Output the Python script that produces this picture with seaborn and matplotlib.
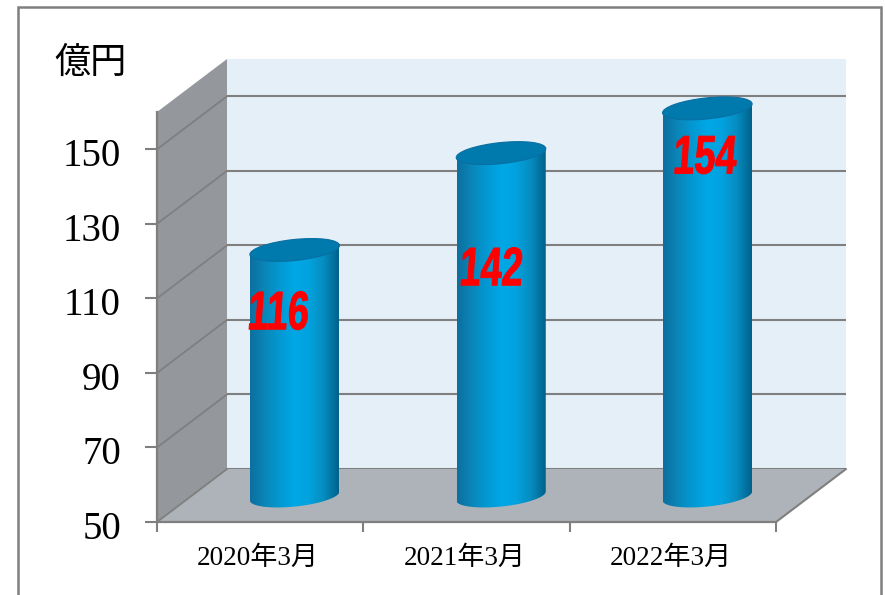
import matplotlib
matplotlib.use("Agg")

import matplotlib.pyplot as plt
import numpy as np
import seaborn as sns
from matplotlib.patches import Ellipse, Polygon, Rectangle
from matplotlib.patheffects import AbstractPathEffect
from matplotlib.transforms import Affine2D, IdentityTransform

periods = ["2020年3月", "2021年3月", "2022年3月"]
sales = [116, 142, 154]
y_ticks = [50, 70, 90, 110, 130, 150]

W, H = 885, 595
LEFT, RIGHT, BOTTOM, TOP = 157, 776, 522, 112
DEPTH_X, DEPTH_Y = 70, 53
GRAY = "#7f7f7f"
SERIF = ["Liberation Serif", "Noto Sans CJK JP"]
# where the red numbers sit on each cylinder, in bar axes data units
LABEL_SHIFT = [-0.08, -0.048, -0.012]
LABEL_LEVEL = [98.5, 110.3, 140.3]


class Squeeze(AbstractPathEffect):
    """Narrow and slant text around a point, no condensed heavy font is installed."""

    def __init__(self, center, sx, skew, lw):
        super().__init__()
        self.center = center
        self.sx = sx
        self.skew = skew
        self.lw = lw

    def draw_path(self, renderer, gc, tpath, affine, rgbFace=None):
        cx, cy = self.center
        squeeze = Affine2D().translate(-cx, -cy).scale(self.sx, 1).skew(self.skew, 0).translate(cx, cy)
        gc0 = renderer.new_gc()
        gc0.copy_properties(gc)
        gc0.set_linewidth(self.lw)
        gc0.set_foreground(rgbFace)
        renderer.draw_path(gc0, tpath, affine + squeeze, rgbFace)
        gc0.restore()


def add_axes_px(fig, dx=0, dy=0):
    return fig.add_axes([
        (LEFT + dx) / W,
        (H - BOTTOM + dy) / H,
        (RIGHT - LEFT) / W,
        (BOTTOM - TOP) / H,
    ])


def set_limits(ax):
    ax.set_xlim(-0.5, 2.5)
    ax.set_ylim(50, 160)


sns.set_theme(style="white")
fig = plt.figure(figsize=(W / 100, H / 100), dpi=100, facecolor="white")

# outer frame, its bottom edge runs off the picture
fig.add_artist(Rectangle((18, -10), 863, H - 7 + 10, fill=False, ec=GRAY, lw=1.8,
                         transform=IdentityTransform()))

# back wall
ax_back = add_axes_px(fig, DEPTH_X, DEPTH_Y)
set_limits(ax_back)
ax_back.set_facecolor("#e4eff8")
ax_back.set_yticks(y_ticks)
ax_back.set_xticks([])
ax_back.tick_params(left=False, labelleft=False)
ax_back.grid(axis="y", color=GRAY, lw=1.5)
ax_back.set_axisbelow(True)
sns.despine(ax=ax_back, left=True, bottom=True, top=True, right=True)
ax_back.set_zorder(0)

# front plane: axis, side wall and floor
ax = add_axes_px(fig)
set_limits(ax)
ax.patch.set_alpha(0)
ax.set_zorder(1)
dx = DEPTH_X / ((RIGHT - LEFT) / 3)
dy = DEPTH_Y / ((BOTTOM - TOP) / 110)

ax.add_patch(Polygon([(-0.5, 50), (-0.5 + dx, 50 + dy), (-0.5 + dx, 160 + dy), (-0.5, 160)],
                     fc="#94989c", ec="none", clip_on=False, zorder=1))
ax.add_patch(Polygon([(-0.5, 50), (-0.5 + dx, 50 + dy), (2.5 + dx, 50 + dy), (2.5, 50)],
                     fc="#aeb3b9", ec="none", clip_on=False, zorder=1))
for t in y_ticks:
    ax.plot([-0.5, -0.5 + dx], [t, t + dy], color=GRAY, lw=1.3, clip_on=False, zorder=2)
ax.plot([2.5, 2.5 + dx], [50, 50 + dy], color=GRAY, lw=1.5, clip_on=False, zorder=2)

ax.set_yticks(y_ticks)
ax.set_yticklabels(y_ticks, family=SERIF, fontsize=28, color="black")
ax.set_xticks([-0.5, 0.5, 1.5, 2.5])
ax.set_xticklabels([])
ax.set_xticks([-0.01, 0.99, 1.99], labels=periods, minor=True, family=SERIF, fontsize=19.5)
ax.tick_params(axis="y", length=9, width=1.5, color=GRAY, pad=17, left=True)
ax.tick_params(axis="x", which="major", length=7, width=1.5, color=GRAY, bottom=True)
ax.tick_params(axis="x", which="minor", length=0, pad=17, colors="black")
# tick_params resets label transforms, so nudge them down only after it
for lab in ax.get_yticklabels():
    lab.set_transform(lab.get_transform() + Affine2D().translate(0, -3))
for name in ("left", "bottom"):
    ax.spines[name].set_color(GRAY)
    ax.spines[name].set_linewidth(1.6)
ax.spines["top"].set_visible(False)
ax.spines["right"].set_visible(False)

fig.text(90 / W, 1 - 63 / H, "億円", family="Noto Sans CJK JP", fontsize=26,
         ha="center", va="center", color="black")

# bars stand half way into the floor, so they get an axes of their own
ax_bar = add_axes_px(fig, DEPTH_X / 2 - 0.5, DEPTH_Y / 2 - 0.5)
ax_bar.set_zorder(2)
sns.barplot(x=periods, y=sales, ax=ax_bar, width=0.43, color="#00a8e6")
set_limits(ax_bar)
ax_bar.axis("off")
fig.canvas.draw()

cmap = sns.blend_palette(
    ["#0c6f9f", "#0a86b8", "#0399d2", "#00a8e6", "#02a2de", "#068cbf", "#00618b"],
    as_cmap=True,
)
shade = np.linspace(0, 1, 256).reshape(1, -1)
TILT = np.radians(6)
RX, RY = 45, 10.5

for bar, value in zip(ax_bar.patches, sales):
    bar.set_visible(False)
    x0, x1 = bar.get_x(), bar.get_x() + bar.get_width()
    xc = (x0 + x1) / 2
    top = ax_bar.transData.transform((xc, value))
    base = ax_bar.transData.transform((xc, 50))

    t = np.linspace(np.pi, 2 * np.pi, 60)
    low = np.column_stack([
        base[0] + RX * np.cos(t) * np.cos(TILT) - RY * np.sin(t) * np.sin(TILT),
        base[1] + RX * np.cos(t) * np.sin(TILT) + RY * np.sin(t) * np.cos(TILT),
    ])
    side = np.vstack([
        low,
        [top[0] + RX * np.cos(TILT), top[1] + RX * np.sin(TILT)],
        [top[0] - RX * np.cos(TILT), top[1] - RX * np.sin(TILT)],
    ])
    body = Polygon(side, transform=IdentityTransform(), fc="none", ec="none")
    ax_bar.add_patch(body)
    im = ax_bar.imshow(shade, cmap=cmap, aspect="auto", extent=(x0, x1, 40, value + 10),
                       zorder=2, interpolation="bilinear")
    im.set_clip_box(fig.bbox)
    im.set_clip_path(body)
    ax_bar.add_patch(Ellipse(top, 2 * RX, 2 * RY, angle=np.degrees(TILT),
                             fc="#0079ac", ec="#0a6fa3", lw=0.8,
                             transform=IdentityTransform(), clip_on=False, zorder=3))
set_limits(ax_bar)

for i, value in enumerate(sales):
    xt, y = i + LABEL_SHIFT[i], LABEL_LEVEL[i]
    txt = ax_bar.text(xt, y, str(value), color="#ff0000", fontsize=39, ha="center", va="center",
                      family="Liberation Sans", weight="bold", zorder=4)
    txt.set_path_effects([Squeeze(ax_bar.transData.transform((xt, y)), 0.7, 0.07, 0.7)])

fig.savefig("out.png", dpi=100)
